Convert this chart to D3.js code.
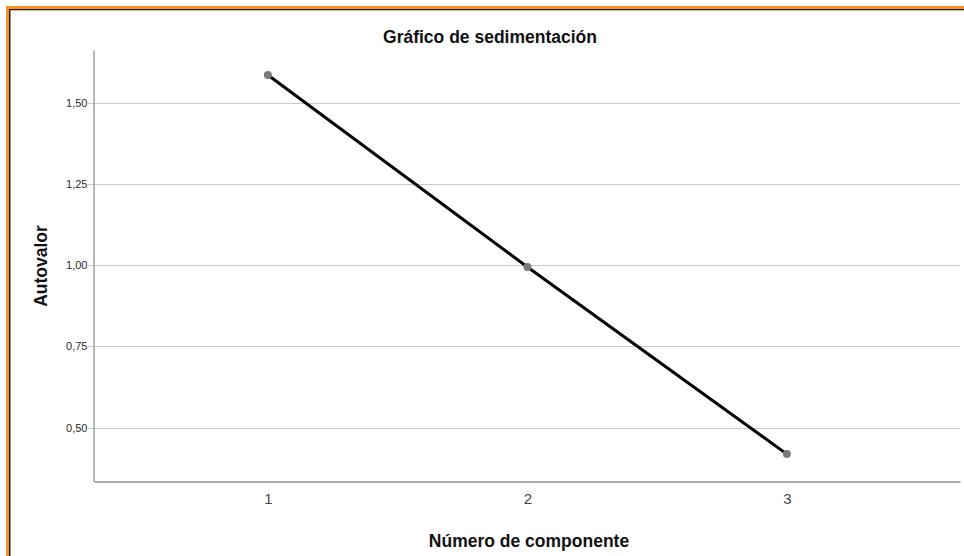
<!DOCTYPE html>
<html>
<head>
<meta charset="utf-8">
<script src="https://cdn.jsdelivr.net/npm/d3@7"></script>
<style>
  body { margin: 0; background: #fff; }
  text { font-family: "Liberation Sans", Arial, sans-serif; }
</style>
</head>
<body>
<div id="chart"></div>
<script>
var components = [1, 2, 3];
var eigenvalues = [1.587, 0.995, 0.418];
var yTicks = [0.50, 0.75, 1.00, 1.25, 1.50];

var W = 964, H = 556;

var svg = d3.select("#chart")
  .append("svg")
    .attr("width", W)
    .attr("height", H);

// frame (orange / black / pale yellow, only top + left visible)
svg.append("rect").attr("x", 6).attr("y", 6).attr("width", W).attr("height", 4).attr("fill", "#f7941d");
svg.append("rect").attr("x", 6).attr("y", 6).attr("width", 4).attr("height", H).attr("fill", "#f7941d");
svg.append("rect").attr("x", 9).attr("y", 9).attr("width", W).attr("height", 1.5).attr("fill", "#1a1a1a");
svg.append("rect").attr("x", 9).attr("y", 9).attr("width", 1.5).attr("height", H).attr("fill", "#1a1a1a");
svg.append("rect").attr("x", 10.5).attr("y", 10.5).attr("width", W).attr("height", 1).attr("fill", "#fff3b0");

var x = d3.scaleLinear()
    .domain([0.33, 3.667])
    .range([94, 960]);

var y = d3.scaleLinear()
    .domain([0.3335, 1.664])
    .range([481.5, 50]);

// grid lines
svg.append("g")
  .selectAll("line")
  .data(yTicks)
  .join("line")
    .attr("x1", 88)
    .attr("x2", 960)
    .attr("y1", d => Math.round(y(d)) + 0.5)
    .attr("y2", d => Math.round(y(d)) + 0.5)
    .attr("stroke", "#c8c8c8")
    .attr("stroke-width", 1);

// y axis
var yAxis = svg.append("g")
    .attr("transform", "translate(93.5,0)")
    .call(d3.axisLeft(y).tickValues(yTicks).tickSize(0).tickPadding(6)
      .tickFormat(d => d3.format(".2f")(d).replace(".", ",")));
yAxis.select(".domain").attr("stroke", "#a0a0a0").attr("stroke-width", 1.5);
yAxis.selectAll("text")
    .attr("font-size", "11px")
    .attr("fill", "#2a2a2a");

// x axis
var xAxis = svg.append("g")
    .attr("transform", "translate(0,481.5)")
    .call(d3.axisBottom(x).tickValues(components).tickSize(0).tickPadding(12)
      .tickFormat(d3.format("d")));
xAxis.select(".domain").attr("stroke", "#8c8c8c").attr("stroke-width", 1.5);
xAxis.selectAll("text")
    .attr("font-size", "15px")
    .attr("fill", "#444");

// line + points
var pts = components.map((c, i) => ({x: c, y: eigenvalues[i]}));

var line = d3.line()
    .x(d => x(d.x))
    .y(d => y(d.y));

svg.append("path")
    .datum(pts)
    .attr("d", line)
    .attr("fill", "none")
    .attr("stroke", "#000")
    .attr("stroke-width", 3);

svg.append("g")
  .selectAll("circle")
  .data(pts)
  .join("circle")
    .attr("cx", d => x(d.x))
    .attr("cy", d => y(d.y))
    .attr("r", 4)
    .attr("fill", "#7a7a7a");

// titles
svg.append("text")
    .attr("x", 490)
    .attr("y", 43)
    .attr("text-anchor", "middle")
    .attr("font-size", "17.5px")
    .attr("font-weight", "bold")
    .attr("fill", "#111")
    .text("Gráfico de sedimentación");

svg.append("text")
    .attr("x", 529)
    .attr("y", 547)
    .attr("text-anchor", "middle")
    .attr("font-size", "17.5px")
    .attr("font-weight", "bold")
    .attr("fill", "#111")
    .text("Número de componente");

svg.append("text")
    .attr("transform", "translate(47,266) rotate(-90)")
    .attr("text-anchor", "middle")
    .attr("font-size", "17.5px")
    .attr("font-weight", "bold")
    .attr("fill", "#111")
    .text("Autovalor");
</script>
</body>
</html>
